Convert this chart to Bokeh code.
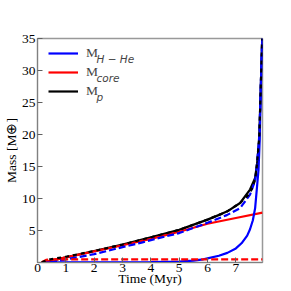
from bokeh.plotting import figure
from bokeh.models import Range1d, FixedTicker, Legend, LegendItem, Label
from bokeh.embed import file_html
from bokeh.resources import INLINE

# Case A (solid lines)
t_core_a = [0.15, 1.0, 2.0, 3.0, 4.0, 5.0, 6.0, 7.0, 7.94]
m_core_a = [0.0, 0.8, 1.75, 2.7, 3.7, 4.8, 6.05, 6.95, 7.8]

t_env_a = [0.15, 1.0, 2.0, 3.0, 4.0, 5.0, 5.5, 5.85, 6.0, 6.4, 6.7, 7.0, 7.2, 7.4, 7.5, 7.6, 7.68, 7.74, 7.8, 7.84, 7.88, 7.93]
m_env_a = [0.0, 0.01, 0.02, 0.04, 0.07, 0.15, 0.3, 0.5, 0.65, 1.05, 1.5, 2.2, 3.0, 4.2, 5.2, 6.6, 8.5, 11.5, 14.5, 19.0, 27.5, 35.0]

t_p_a = [0.15, 0.5, 1.0, 2.0, 3.0, 4.0, 5.0, 6.0, 6.5, 6.7, 7.15, 7.5, 7.68, 7.75, 7.82, 7.88, 7.93]
m_p_a = [0.0, 0.3, 0.8, 1.8, 2.8, 3.95, 5.1, 6.7, 7.6, 8.0, 9.3, 11.4, 13.2, 15.5, 19.0, 27.5, 35.0]

# Case B (dashed lines)
t_core_b = [0.15, 0.3, 0.5, 7.94]
m_core_b = [0.05, 0.4, 0.5, 0.5]

t_env_b = [0.45, 1.0, 2.0, 3.0, 3.67, 4.0, 5.0, 6.0, 6.68, 7.15, 7.5, 7.68, 7.75, 7.83, 7.88, 7.93]
m_env_b = [0.0, 0.5, 1.3, 2.4, 3.1, 3.5, 4.6, 6.2, 7.4, 8.5, 10.6, 12.8, 15.5, 20.0, 27.5, 35.0]

t_p_b = [0.15, 0.45, 1.0, 2.0, 3.0, 4.0, 5.0, 6.0, 6.68, 7.15, 7.5, 7.68, 7.75, 7.83, 7.88, 7.93]
m_p_b = [0.05, 0.5, 0.9, 1.8, 2.8, 3.95, 5.1, 6.7, 7.95, 9.3, 10.8, 12.9, 15.5, 20.0, 27.5, 35.0]

x_ticks = [0, 1, 2, 3, 4, 5, 6, 7]
y_ticks = [5, 10, 15, 20, 25, 30, 35]

SERIF = "Liberation Serif"
SANS = "DejaVu Sans"

FW, FH = 225, 224
p = figure(frame_width=FW, frame_height=FH, output_backend="svg", toolbar_location=None,
           x_range=Range1d(0, 7.94), y_range=Range1d(0, 35),
           min_border_left=28, min_border_top=38, min_border_right=22, min_border_bottom=0)
p.grid.visible = False
p.outline_line_color = "#999999"
p.outline_line_width = 1.5
p.background_fill_color = "white"

for ax in (p.xaxis[0], p.yaxis[0]):
    ax.axis_line_color = "#808080"
    ax.major_tick_line_color = "#606060"
    ax.major_tick_in = 5
    ax.major_tick_out = 0
    ax.minor_tick_line_color = None
    ax.major_label_text_font = SERIF
    ax.major_label_text_font_size = "13.5px"
    ax.major_label_text_color = "black"
    ax.axis_label_text_font = SERIF
    ax.axis_label_text_font_size = "13.5px"
    ax.axis_label_text_font_style = "normal"
    ax.axis_label_text_color = "black"

p.yaxis.major_label_standoff = 2
p.yaxis.axis_label_standoff = 0
p.xaxis.major_label_standoff = 1
p.xaxis.axis_label_standoff = -4

p.xaxis.ticker = FixedTicker(ticks=x_ticks)
p.yaxis.ticker = FixedTicker(ticks=y_ticks)
p.xaxis.axis_label = "Time (Myr)"
p.yaxis.axis_label = "Mass [M⊕]"

lw = 2.2
r_p_a = p.line(t_p_a, m_p_a, line_color="black", line_width=lw)
r_core_a = p.line(t_core_a, m_core_a, line_color="red", line_width=lw)
p.line(t_env_b, m_env_b, line_color="blue", line_width=lw, line_dash="7 3")
r_env_a = p.line(t_env_a, m_env_a, line_color="blue", line_width=lw)
p.line(t_core_b, m_core_b, line_color="red", line_width=lw, line_dash="7 3")
p.line(t_p_b, m_p_b, line_color="black", line_width=lw, line_dash="4 4")

RH, SP = 16, 3
LH = 3 * RH + 2 * SP
legend = Legend(items=[LegendItem(label="M", renderers=[r_env_a]),
                       LegendItem(label="M", renderers=[r_core_a]),
                       LegendItem(label="M", renderers=[r_p_a])],
                location=(11, FH - 7 - LH), glyph_width=30, glyph_height=RH, label_height=RH,
                spacing=SP, padding=0, margin=0, label_standoff=8,
                border_line_color=None, background_fill_alpha=0,
                label_text_font=SERIF, label_text_font_size="13.5px")
p.add_layout(legend, "center")

subs = ["H − He", "core", "p"]
for i, s in enumerate(subs):
    p.add_layout(Label(x=59, y=FH - 15 - 5 - (RH + SP) * i, x_units="screen", y_units="screen", text=s,
                       text_font=SANS, text_font_style="italic", text_font_size="10.5px",
                       text_baseline="middle", text_align="left"))

open("out.html", "w").write(file_html(p, INLINE))
